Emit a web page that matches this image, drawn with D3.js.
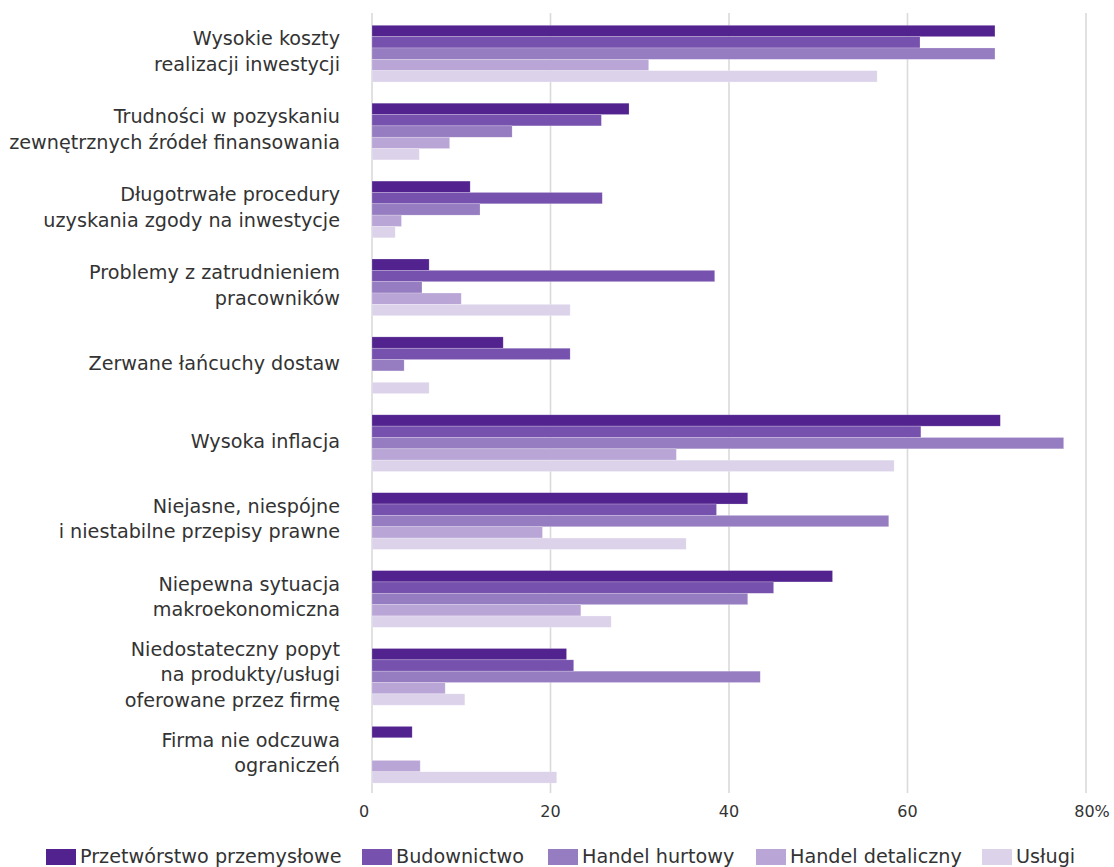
<!DOCTYPE html>
<html><head><meta charset="utf-8">
<script src="https://cdn.jsdelivr.net/npm/d3@7"></script>
<style>body{margin:0;background:#fff}svg{display:block}</style>
</head><body>
<svg id="c" width="1114" height="867"></svg>
<script>
const categories = [
  ["Wysokie koszty","realizacji inwestycji"],
  ["Trudności w pozyskaniu","zewnętrznych źródeł finansowania"],
  ["Długotrwałe procedury","uzyskania zgody na inwestycje"],
  ["Problemy z zatrudnieniem","pracowników"],
  ["Zerwane łańcuchy dostaw"],
  ["Wysoka inflacja"],
  ["Niejasne, niespójne","i niestabilne przepisy prawne"],
  ["Niepewna sytuacja","makroekonomiczna"],
  ["Niedostateczny popyt","na produkty/usługi","oferowane przez firmę"],
  ["Firma nie odczuwa","ograniczeń"]
];
const seriesNames = ["Przetwórstwo przemysłowe","Budownictwo","Handel hurtowy","Handel detaliczny","Usługi"];
const przetworstwo = [69.8, 28.8, 11.0, 6.4, 14.7, 70.4, 42.1, 51.6, 21.8, 4.5];
const budownictwo  = [61.4, 25.7, 25.8, 38.4, 22.2, 61.5, 38.6, 45.0, 22.6, 0];
const handelHurt   = [69.8, 15.7, 12.1, 5.6, 3.6, 77.5, 57.9, 42.1, 43.5, 0];
const handelDet    = [31.0, 8.7, 3.3, 10.0, 0, 34.1, 19.1, 23.4, 8.2, 5.4];
const uslugi       = [56.6, 5.3, 2.6, 22.2, 6.4, 58.5, 35.2, 26.8, 10.4, 20.7];
const seriesValues = [przetworstwo, budownictwo, handelHurt, handelDet, uslugi];
const colors = ["#52238f","#7651ad","#967cc0","#b9a6d6","#dcd3eb"];
const tickValues = [0,20,40,60,80];
const tickLabels = ["0","20","40","60","80%"];

const FONT = "'DejaVu Sans', 'Noto Sans', sans-serif";
const svg = d3.select("#c");
const x = d3.scaleLinear().domain([0,80]).range([372,1086]);
const y0 = d3.scaleBand().domain(d3.range(categories.length)).range([14.7,793.7]).paddingInner(0.272).paddingOuter(0.136);
const y1 = d3.scaleBand().domain(d3.range(seriesNames.length)).range([0,y0.bandwidth()]);

// gridlines
svg.append("g").selectAll("line").data(tickValues).join("line")
  .attr("x1",d=>x(d)).attr("x2",d=>x(d)).attr("y1",13).attr("y2",793)
  .attr("stroke","#dadada").attr("stroke-width",1.6);

// bars
const g = svg.append("g");
categories.forEach((c,i)=>{
  seriesValues.forEach((vals,s)=>{
    if(vals[i] <= 0) return;
    g.append("rect")
      .attr("x",x(0)).attr("y",y0(i)+y1(s))
      .attr("width",x(vals[i])-x(0)).attr("height",y1.bandwidth())
      .attr("fill",colors[s]).attr("stroke","rgba(255,255,255,0.35)").attr("stroke-width",0.6);
  });
});

// category labels
const lh = 25.5;
categories.forEach((lines,i)=>{
  const cy = y0(i)+y0.bandwidth()/2 - 2.5;
  const t = svg.append("text").attr("text-anchor","end")
    .attr("font-family",FONT).attr("font-size",19.2).attr("fill","#333");
  lines.forEach((ln,k)=>{
    t.append("tspan").attr("x",340)
      .attr("y", cy + (k-(lines.length-1)/2)*lh + 7).text(ln);
  });
});

// x tick labels
const tickDx = [-8,0,0,0,6];
svg.append("g").selectAll("text").data(tickValues).join("text")
  .attr("x",(d,i)=>x(d)+tickDx[i]).attr("y",816.5)
  .attr("text-anchor","middle").attr("font-family",FONT).attr("font-size",16).attr("fill","#333")
  .text((d,i)=>tickLabels[i]);

// legend
const legX = [46,362,548,756,982];
const leg = svg.append("g");
seriesNames.forEach((n,i)=>{
  leg.append("rect").attr("x",legX[i]).attr("y",849).attr("width",30).attr("height",16).attr("fill",colors[i]);
  leg.append("text").attr("x",legX[i]+34).attr("y",862.5)
    .attr("font-family",FONT).attr("font-size",19.2).attr("fill","#333").text(n);
});
</script>
</body></html>
